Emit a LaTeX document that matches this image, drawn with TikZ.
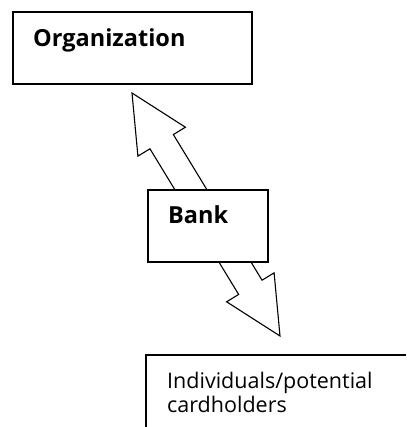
\documentclass[tikz,border=0pt]{standalone}
\usepackage{fontspec}
\setmainfont{Open Sans}
\usetikzlibrary{calc}
\tikzset{
  boxline/.style={draw=black, line width=1.6pt},
  box/.style={boxline, fill=white, inner sep=0pt, anchor=north west},
  boldlabel/.style={font=\fontsize{23.5}{28}\selectfont\bfseries, inner sep=0pt, anchor=base west},
  plainlabel/.style={font=\fontsize{21.5}{26}\selectfont, inner sep=0pt, anchor=base west},
  blockarrow/.style={draw=black, fill=white, line width=1.1pt, line join=miter}
}
\begin{document}
\begin{tikzpicture}[x=1pt, y=-1pt]
\useasboundingbox (0,0) rectangle (406,427);
% Organization
\node[box, minimum width=239pt, minimum height=72pt] (org) at (12,11) {};
\node[boldlabel] (orgt) at (33,47) {Organization};
% double block arrow
\coordinate (tA) at (132,93);
\coordinate (tB) at (280,336);
\coordinate (hA) at ($(tA)!57pt!(tB)$);
\coordinate (hB) at ($(tB)!57pt!(tA)$);
\draw[blockarrow] (tA)
  -- ($(hA)!27.8pt!90:(tB)$) -- ($(hA)!13.7pt!90:(tB)$)
  -- ($(hB)!13.7pt!-90:(tA)$) -- ($(hB)!27.8pt!-90:(tA)$)
  -- (tB)
  -- ($(hB)!27.8pt!90:(tA)$) -- ($(hB)!13.7pt!90:(tA)$)
  -- ($(hA)!13.7pt!-90:(tB)$) -- ($(hA)!27.8pt!-90:(tB)$)
  -- cycle;
% Bank
\node[box, minimum width=120pt, minimum height=72pt] (bank) at (147,189) {};
\node[boldlabel] (bankt) at (168,223) {Bank};
% Individuals box (open at right and bottom)
\coordinate (ibl) at (146,427);
\coordinate (itl) at (146,355);
\coordinate (itr) at (406,355);
\draw[boxline] (ibl) -- (itl) -- (itr);
\node[plainlabel] (ind1) at (167,388) {Individuals/potential};
\node[plainlabel] (ind2) at (167,412) {cardholders};
\end{tikzpicture}
\end{document}
